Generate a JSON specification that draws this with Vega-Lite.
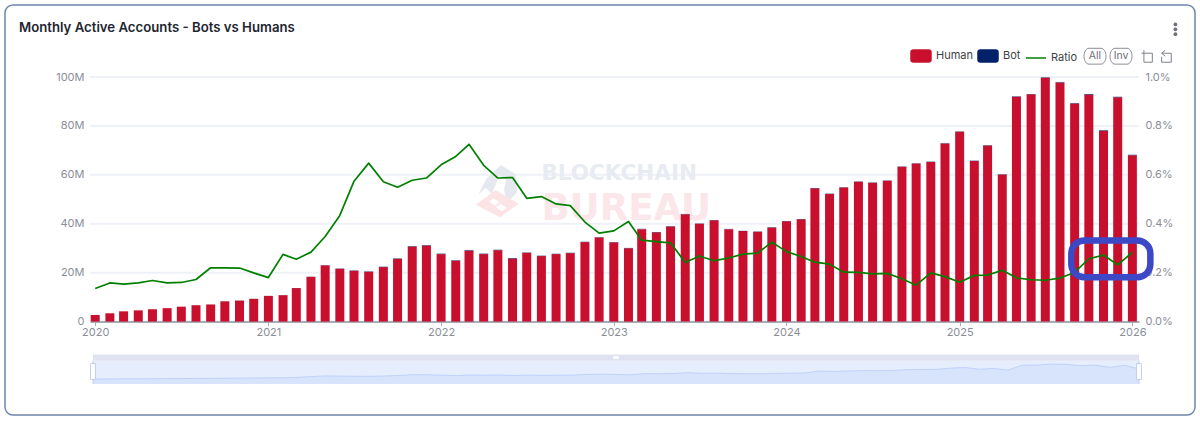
{
  "$schema": "https://vega.github.io/schema/vega-lite/v6.json",
  "width": 1190,
  "height": 410,
  "padding": {"left": 5, "top": 5, "right": 5, "bottom": 6},
  "autosize": "none",
  "background": "white",
  "title": {
    "text": "Monthly Active Accounts - Bots vs Humans",
    "anchor": "start",
    "frame": "group",
    "dx": 14,
    "offset": -30,
    "font": "Inter",
    "fontSize": 13.2,
    "fontWeight": 600,
    "color": "#23262f"
  },
  "datasets": {
    "months": [
      {"month": "2020-01-01", "Human": 2700000, "Bot": 4000, "Ratio": 0.135},
      {"month": "2020-02-01", "Human": 3400000, "Bot": 5000, "Ratio": 0.158},
      {"month": "2020-03-01", "Human": 4200000, "Bot": 6000, "Ratio": 0.153},
      {"month": "2020-04-01", "Human": 4600000, "Bot": 7000, "Ratio": 0.158},
      {"month": "2020-05-01", "Human": 5050000, "Bot": 8000, "Ratio": 0.168},
      {"month": "2020-06-01", "Human": 5500000, "Bot": 9000, "Ratio": 0.158},
      {"month": "2020-07-01", "Human": 6100000, "Bot": 10000, "Ratio": 0.16},
      {"month": "2020-08-01", "Human": 6700000, "Bot": 12000, "Ratio": 0.172},
      {"month": "2020-09-01", "Human": 7000000, "Bot": 15000, "Ratio": 0.22},
      {"month": "2020-10-01", "Human": 8300000, "Bot": 18000, "Ratio": 0.22},
      {"month": "2020-11-01", "Human": 8600000, "Bot": 19000, "Ratio": 0.219},
      {"month": "2020-12-01", "Human": 9300000, "Bot": 19000, "Ratio": 0.199},
      {"month": "2021-01-01", "Human": 10500000, "Bot": 19000, "Ratio": 0.18},
      {"month": "2021-02-01", "Human": 10800000, "Bot": 30000, "Ratio": 0.275},
      {"month": "2021-03-01", "Human": 13700000, "Bot": 35000, "Ratio": 0.255},
      {"month": "2021-04-01", "Human": 18300000, "Bot": 52000, "Ratio": 0.284},
      {"month": "2021-05-01", "Human": 23000000, "Bot": 80000, "Ratio": 0.348},
      {"month": "2021-06-01", "Human": 21600000, "Bot": 94000, "Ratio": 0.434},
      {"month": "2021-07-01", "Human": 20800000, "Bot": 119000, "Ratio": 0.574},
      {"month": "2021-08-01", "Human": 20400000, "Bot": 132000, "Ratio": 0.648},
      {"month": "2021-09-01", "Human": 22300000, "Bot": 128000, "Ratio": 0.572},
      {"month": "2021-10-01", "Human": 25700000, "Bot": 141000, "Ratio": 0.549},
      {"month": "2021-11-01", "Human": 30700000, "Bot": 177000, "Ratio": 0.578},
      {"month": "2021-12-01", "Human": 31100000, "Bot": 183000, "Ratio": 0.587},
      {"month": "2022-01-01", "Human": 27600000, "Bot": 177000, "Ratio": 0.641},
      {"month": "2022-02-01", "Human": 24900000, "Bot": 168000, "Ratio": 0.675},
      {"month": "2022-03-01", "Human": 29000000, "Bot": 210000, "Ratio": 0.725},
      {"month": "2022-04-01", "Human": 27600000, "Bot": 176000, "Ratio": 0.639},
      {"month": "2022-05-01", "Human": 29200000, "Bot": 171000, "Ratio": 0.587},
      {"month": "2022-06-01", "Human": 25800000, "Bot": 152000, "Ratio": 0.589},
      {"month": "2022-07-01", "Human": 28100000, "Bot": 142000, "Ratio": 0.504},
      {"month": "2022-08-01", "Human": 26800000, "Bot": 137000, "Ratio": 0.511},
      {"month": "2022-09-01", "Human": 27600000, "Bot": 133000, "Ratio": 0.481},
      {"month": "2022-10-01", "Human": 28000000, "Bot": 133000, "Ratio": 0.474},
      {"month": "2022-11-01", "Human": 32500000, "Bot": 132000, "Ratio": 0.407},
      {"month": "2022-12-01", "Human": 34400000, "Bot": 125000, "Ratio": 0.362},
      {"month": "2023-01-01", "Human": 32400000, "Bot": 120000, "Ratio": 0.371},
      {"month": "2023-02-01", "Human": 30000000, "Bot": 123000, "Ratio": 0.409},
      {"month": "2023-03-01", "Human": 37800000, "Bot": 126000, "Ratio": 0.333},
      {"month": "2023-04-01", "Human": 36500000, "Bot": 119000, "Ratio": 0.327},
      {"month": "2023-05-01", "Human": 38900000, "Bot": 125000, "Ratio": 0.322},
      {"month": "2023-06-01", "Human": 43900000, "Bot": 106000, "Ratio": 0.242},
      {"month": "2023-07-01", "Human": 40000000, "Bot": 107000, "Ratio": 0.268},
      {"month": "2023-08-01", "Human": 41400000, "Bot": 103000, "Ratio": 0.249},
      {"month": "2023-09-01", "Human": 37800000, "Bot": 98000, "Ratio": 0.26},
      {"month": "2023-10-01", "Human": 37000000, "Bot": 102000, "Ratio": 0.276},
      {"month": "2023-11-01", "Human": 36700000, "Bot": 103000, "Ratio": 0.28},
      {"month": "2023-12-01", "Human": 38500000, "Bot": 125000, "Ratio": 0.325},
      {"month": "2024-01-01", "Human": 41000000, "Bot": 117000, "Ratio": 0.286},
      {"month": "2024-02-01", "Human": 41800000, "Bot": 111000, "Ratio": 0.266},
      {"month": "2024-03-01", "Human": 54500000, "Bot": 132000, "Ratio": 0.243},
      {"month": "2024-04-01", "Human": 52200000, "Bot": 123000, "Ratio": 0.235},
      {"month": "2024-05-01", "Human": 54800000, "Bot": 111000, "Ratio": 0.202},
      {"month": "2024-06-01", "Human": 57200000, "Bot": 115000, "Ratio": 0.201},
      {"month": "2024-07-01", "Human": 56800000, "Bot": 111000, "Ratio": 0.195},
      {"month": "2024-08-01", "Human": 57600000, "Bot": 113000, "Ratio": 0.197},
      {"month": "2024-09-01", "Human": 63300000, "Bot": 111000, "Ratio": 0.175},
      {"month": "2024-10-01", "Human": 64600000, "Bot": 96000, "Ratio": 0.149},
      {"month": "2024-11-01", "Human": 65300000, "Bot": 130000, "Ratio": 0.199},
      {"month": "2024-12-01", "Human": 72800000, "Bot": 134000, "Ratio": 0.184},
      {"month": "2025-01-01", "Human": 77600000, "Bot": 125000, "Ratio": 0.161},
      {"month": "2025-02-01", "Human": 65700000, "Bot": 124000, "Ratio": 0.189},
      {"month": "2025-03-01", "Human": 72000000, "Bot": 137000, "Ratio": 0.19},
      {"month": "2025-04-01", "Human": 60100000, "Bot": 126000, "Ratio": 0.21},
      {"month": "2025-05-01", "Human": 91900000, "Bot": 165000, "Ratio": 0.179},
      {"month": "2025-06-01", "Human": 92900000, "Bot": 159000, "Ratio": 0.171},
      {"month": "2025-07-01", "Human": 99700000, "Bot": 168000, "Ratio": 0.169},
      {"month": "2025-08-01", "Human": 97800000, "Bot": 174000, "Ratio": 0.178},
      {"month": "2025-09-01", "Human": 89200000, "Bot": 179000, "Ratio": 0.201},
      {"month": "2025-10-01", "Human": 92800000, "Bot": 238000, "Ratio": 0.257},
      {"month": "2025-11-01", "Human": 78000000, "Bot": 212000, "Ratio": 0.272},
      {"month": "2025-12-01", "Human": 91700000, "Bot": 213000, "Ratio": 0.232},
      {"month": "2026-01-01", "Human": 68000000, "Bot": 192000, "Ratio": 0.283}
    ],
    "gridlines": [
      {"tick": 20000000, "from": "2019-12-21", "to": "2026-01-15"},
      {"tick": 40000000, "from": "2019-12-21", "to": "2026-01-15"},
      {"tick": 60000000, "from": "2019-12-21", "to": "2026-01-15"},
      {"tick": 80000000, "from": "2019-12-21", "to": "2026-01-15"},
      {"tick": 100000000, "from": "2019-12-21", "to": "2026-01-15"}
    ]
  },
  "resolve": {"scale": {"x": "independent", "y": "independent"}, "axis": {"x": "independent", "y": "independent"}},
  "layer": [
    {
      "layer": [
        {
          "data": {"name": "gridlines"},
          "mark": {"type": "rule", "color": "#eef1f7", "strokeWidth": 2},
          "encoding": {
            "x": {"field": "from", "type": "temporal"},
            "x2": {"field": "to"},
            "y": {"field": "tick", "type": "quantitative"}
          }
        },
        {
          "data": {"values": [{"month": "2022-05-01", "accounts": 55600000}]},
          "mark": {"type": "point", "shape": "M-.95,.45L-.55,-.35L.15,-1L.85,-.55L.95,.3L.45,.85L.3,.2L.4,-.3L.05,-.5L-.1,-.05L-.3,.4L-.6,.1Z", "size": 1700, "filled": true, "fill": "#e6e8ef", "opacity": 1},
          "encoding": {
            "x": {"field": "month", "type": "temporal"},
            "y": {"field": "accounts", "type": "quantitative"}
          }
        },
        {
          "data": {"values": [{"month": "2022-05-01", "accounts": 48200000}]},
          "mark": {"type": "point", "shape": "M-1,.05L-.1,-.62L.95,0L.1,.62ZM-.4,-.1L-.12,.08L.08,-.07L-.2,-.25ZM-.1,.16L.18,.34L.4,.18L.12,0Z", "size": 1936, "filled": true, "fill": "#fbe3e6", "opacity": 1},
          "encoding": {
            "x": {"field": "month", "type": "temporal"},
            "y": {"field": "accounts", "type": "quantitative"}
          }
        },
        {
          "data": {"values": [{"month": "2022-08-01", "accounts": 60400000, "label": "BLOCKCHAIN"}]},
          "mark": {"type": "text", "align": "left", "baseline": "middle", "font": "DejaVu Sans", "fontSize": 21.5, "fontWeight": 700, "color": "#e8ebf1"},
          "encoding": {
            "x": {"field": "month", "type": "temporal"},
            "y": {"field": "accounts", "type": "quantitative"},
            "text": {"field": "label"}
          }
        },
        {
          "data": {"values": [{"month": "2022-08-01", "accounts": 46000000, "label": "BUREAU"}]},
          "mark": {"type": "text", "align": "left", "baseline": "middle", "font": "DejaVu Sans", "fontSize": 37, "fontWeight": 700, "color": "#fbe6e9"},
          "encoding": {
            "x": {"field": "month", "type": "temporal"},
            "y": {"field": "accounts", "type": "quantitative"},
            "text": {"field": "label"}
          }
        },
        {
          "data": {"name": "months"},
          "transform": [{"fold": ["Human", "Bot"], "as": ["series", "accounts"]}],
          "mark": {"type": "bar", "width": 9},
          "encoding": {
            "x": {
              "field": "month",
              "type": "temporal",
              "title": null,
              "scale": {"type": "utc", "domain": ["2019-12-21", "2026-01-15"], "range": [85, 1134], "nice": false, "padding": 0},
              "axis": {
                "orient": "bottom",
                "offset": -93.4,
                "tickCount": "year",
                "format": "%Y",
                "grid": false,
                "domainColor": "#a6adba",
                "domainWidth": 2,
                "tickColor": "#a6adba",
                "tickSize": 4,
                "labelFont": "Inter",
                "labelFontSize": 11,
                "labelColor": "#8a8e98",
                "labelPadding": 1,
                "labelFlush": false
              }
            },
            "y": {
              "field": "accounts",
              "type": "quantitative",
              "title": null,
              "stack": "zero",
              "scale": {"domain": [0, 100000000], "range": [316.6, 72], "nice": false},
              "axis": {
                "orient": "left",
                "offset": -85,
                "values": [0, 20000000, 40000000, 60000000, 80000000, 100000000],
                "labelExpr": "datum.value == 0 ? '0' : datum.value / 1000000 + 'M'",
                "grid": false,
                "domain": false,
                "ticks": false,
                "labelFont": "Inter",
                "labelFontSize": 11,
                "labelColor": "#8a8e98",
                "labelPadding": 6
              }
            },
            "color": {
              "field": "series",
              "type": "nominal",
              "scale": {"domain": ["Human", "Bot", "Ratio"], "range": ["#c8102e", "#012169", "#008000"]},
              "legend": {
                "orient": "none",
                "legendX": 905,
                "legendY": 40,
                "direction": "horizontal",
                "title": null,
                "columns": 3,
                "columnPadding": 2,
                "symbolSize": 400,
                "symbolOffset": 0,
                "labelOffset": 4,
                "labelFont": "Inter",
                "labelFontSize": 11,
                "labelColor": "#3c3f47",
                "encode": {
                  "symbols": {
                    "update": {
                      "shape": {"signal": "datum.value === 'Ratio' ? 'M-1,0H1' : 'M-.75,-.6H.75A.25,.25 0 0 1 1,-.35V.35A.25,.25 0 0 1 .75,.6H-.75A.25,.25 0 0 1 -1,.35V-.35A.25,.25 0 0 1 -.75,-.6Z'"},
                      "fill": {"signal": "datum.value === 'Human' ? '#c8102e' : datum.value === 'Bot' ? '#012169' : 'transparent'"},
                      "stroke": {"signal": "datum.value === 'Ratio' ? '#008000' : 'transparent'"},
                      "strokeWidth": {"value": 1.5},
                      "opacity": {"value": 1}
                    }
                  }
                }
              }
            },
            "order": {"field": "series", "sort": "descending"}
          }
        }
      ]
    },
    {
      "layer": [
        {
          "data": {"values": [{"from": "2020-01-01", "to": "2026-01-01", "low": -29000000, "high": 121000000}]},
          "mark": {"type": "rect", "fill": "#e6eefe"},
          "encoding": {
            "x": {
              "field": "from",
              "type": "temporal",
              "axis": null,
              "scale": {"type": "utc", "domain": ["2020-01-01", "2026-01-01"], "range": [88, 1134], "nice": false}
            },
            "x2": {"field": "to"},
            "y": {
              "field": "low",
              "type": "quantitative",
              "axis": null,
              "scale": {"domain": [0, 100000000], "range": [374.5, 359], "nice": false}
            },
            "y2": {"field": "high"}
          }
        },
        {
          "data": {"values": [{"from": "2020-01-01", "to": "2026-01-01", "low": 121000000, "high": 162000000}]},
          "mark": {"type": "rect", "fill": "#dfe3f1"},
          "encoding": {
            "x": {"field": "from", "type": "temporal", "axis": null},
            "x2": {"field": "to"},
            "y": {"field": "low", "type": "quantitative", "axis": null},
            "y2": {"field": "high"}
          }
        },
        {
          "data": {"name": "months"},
          "mark": {"type": "area", "color": "#d2e0fb", "line": {"color": "#bfd2f9", "strokeWidth": 1}},
          "encoding": {
            "x": {"field": "month", "type": "temporal", "axis": null},
            "y": {"field": "Human", "type": "quantitative", "axis": null},
            "y2": {"datum": -29000000}
          }
        },
        {
          "data": {"values": [{"month": "2020-01-01", "low": -29000000, "high": 121000000}, {"month": "2026-01-01", "low": -29000000, "high": 121000000}]},
          "mark": {"type": "rule", "color": "#c3cde6", "strokeWidth": 1},
          "encoding": {
            "x": {"field": "month", "type": "temporal", "axis": null},
            "y": {"field": "low", "type": "quantitative", "axis": null},
            "y2": {"field": "high"}
          }
        },
        {
          "data": {"values": [{"month": "2020-01-01", "mid": 51000000}, {"month": "2026-01-01", "mid": 51000000}]},
          "mark": {"type": "point", "shape": "M-.3,-1H.3V1H-.3Z", "size": 256, "filled": true, "fill": "white", "stroke": "#c3cde6", "strokeWidth": 1, "opacity": 1},
          "encoding": {
            "x": {"field": "month", "type": "temporal", "axis": null},
            "y": {"field": "mid", "type": "quantitative", "axis": null}
          }
        },
        {
          "data": {"values": [{"month": "2023-01-01", "mid": 142000000}]},
          "mark": {"type": "point", "shape": "M-1,-.5H1V.5H-1Z", "size": 30, "filled": true, "fill": "white", "opacity": 1},
          "encoding": {
            "x": {"field": "month", "type": "temporal", "axis": null},
            "y": {"field": "mid", "type": "quantitative", "axis": null}
          }
        }
      ]
    },
    {
      "layer": [
        {
          "data": {"name": "months"},
          "mark": {"type": "line", "strokeWidth": 1.7, "strokeJoin": "round"},
          "encoding": {
            "x": {
              "field": "month",
              "type": "temporal",
              "axis": null,
              "scale": {"type": "utc", "domain": ["2019-12-21", "2026-01-15"], "range": [85, 1134], "nice": false}
            },
            "y": {
              "field": "Ratio",
              "type": "quantitative",
              "title": null,
              "scale": {"domain": [0, 1], "range": [316.6, 72], "nice": false},
              "axis": {
                "orient": "right",
                "offset": -56,
                "values": [0, 0.2, 0.4, 0.6, 0.8, 1],
                "labelExpr": "format(datum.value, '.1f') + '%'",
                "grid": false,
                "domain": false,
                "ticks": false,
                "labelFont": "Inter",
                "labelFontSize": 11,
                "labelColor": "#8a8e98",
                "labelPadding": 6
              }
            },
            "color": {"datum": "Ratio"}
          }
        },
        {
          "data": {"values": [{"from": "2025-08-25", "to": "2026-02-08", "low": 0.181, "high": 0.332}]},
          "mark": {"type": "rect", "fill": null, "stroke": "#3c48c6", "strokeWidth": 6.5, "cornerRadius": 13},
          "encoding": {
            "x": {"field": "from", "type": "temporal"},
            "x2": {"field": "to"},
            "y": {"field": "low", "type": "quantitative"},
            "y2": {"field": "high"}
          }
        },
        {
          "data": {"values": [{"month": "2025-10-14", "level": 1.085, "label": "All"}, {"month": "2025-12-08", "level": 1.085, "label": "Inv"}]},
          "mark": {"type": "point", "shape": "M-.55,-.72H.55A.45,.72 0 0 1 .55,.72H-.55A.45,.72 0 0 1 -.55,-.72Z", "size": 484, "filled": false, "stroke": "#8a8e98", "strokeWidth": 1, "opacity": 1},
          "encoding": {
            "x": {"field": "month", "type": "temporal"},
            "y": {"field": "level", "type": "quantitative"}
          }
        },
        {
          "data": {"values": [{"month": "2025-10-14", "level": 1.085, "label": "All"}, {"month": "2025-12-08", "level": 1.085, "label": "Inv"}]},
          "mark": {"type": "text", "font": "Inter", "fontSize": 10.5, "color": "#6e7079", "baseline": "middle"},
          "encoding": {
            "x": {"field": "month", "type": "temporal"},
            "y": {"field": "level", "type": "quantitative"},
            "text": {"field": "label"}
          }
        },
        {
          "data": {"values": [{"month": "2026-02-02", "level": 1.085}]},
          "mark": {"type": "point", "shape": "M-1,-.5H.8V1H-.6V-1", "size": 144, "filled": false, "stroke": "#7d828c", "strokeWidth": 1, "opacity": 1},
          "encoding": {
            "x": {"field": "month", "type": "temporal"},
            "y": {"field": "level", "type": "quantitative"}
          }
        },
        {
          "data": {"values": [{"month": "2026-03-14", "level": 1.085}]},
          "mark": {"type": "point", "shape": "M-.2,-1L-.8,-.5L-.2,0M-.8,-.5H.8V1H-.8V.1", "size": 144, "filled": false, "stroke": "#7d828c", "strokeWidth": 1, "opacity": 1},
          "encoding": {
            "x": {"field": "month", "type": "temporal"},
            "y": {"field": "level", "type": "quantitative"}
          }
        },
        {
          "data": {"values": [{"month": "2026-04-02", "level": 1.215}, {"month": "2026-04-02", "level": 1.195}, {"month": "2026-04-02", "level": 1.175}]},
          "mark": {"type": "point", "shape": "circle", "size": 14, "filled": true, "fill": "#6e7079", "opacity": 1},
          "encoding": {
            "x": {"field": "month", "type": "temporal"},
            "y": {"field": "level", "type": "quantitative"}
          }
        }
      ]
    }
  ],
  "config": {
    "view": {"stroke": "#6f87a8", "strokeWidth": 1.5, "cornerRadius": 8}
  }
}
